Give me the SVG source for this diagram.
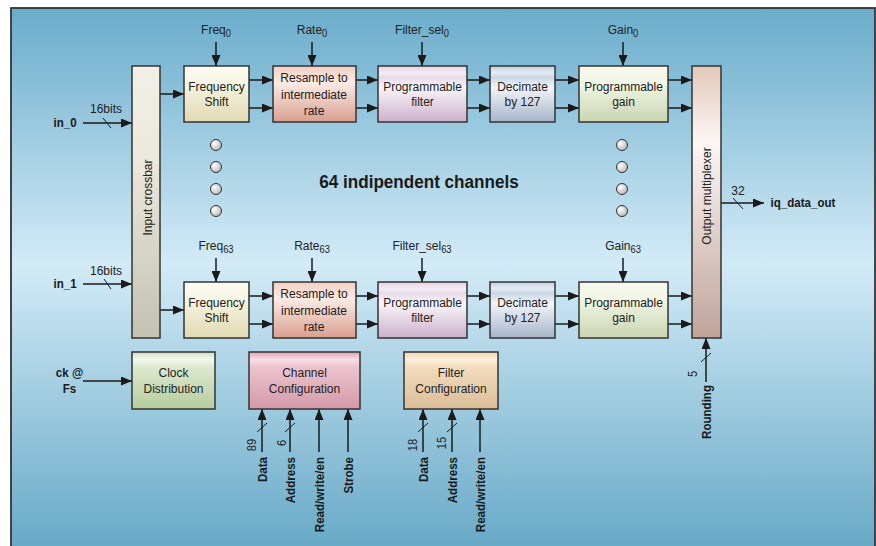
<svg xmlns="http://www.w3.org/2000/svg" width="876" height="546" viewBox="0 0 876 546">
<style>
.t{font-family:"Liberation Sans",Arial,sans-serif;font-size:13.5px;fill:#222;text-anchor:middle}
.b{font-weight:bold;font-size:13px;fill:#1a1a1a}
.e{text-anchor:end}
.s{font-size:10.5px}
.n{font-size:12.5px}
.blk{stroke:#333;stroke-width:1.5}
.ln{stroke:#1a1a1a;stroke-width:1.5;fill:none}
.ar{stroke:#1a1a1a;stroke-width:1.5;fill:none;marker-end:url(#ah)}
.sl{stroke:#1a1a1a;stroke-width:1}
.dot{fill:url(#gDot);stroke:#333;stroke-width:1}
</style>
<defs>
<marker id="ah" markerUnits="userSpaceOnUse" markerWidth="11" markerHeight="9" refX="11" refY="4.5" orient="auto">
<path d="M0,0 L11,4.5 L0,9 z" fill="#1a1a1a"/>
</marker>
<linearGradient id="gBg" x1="0" y1="0" x2="0" y2="1">
<stop offset="0" stop-color="#6aaccb"/><stop offset="0.47" stop-color="#d3ebf7"/><stop offset="1" stop-color="#66a8c6"/>
</linearGradient>
<linearGradient id="gIn" x1="0" y1="0" x2="0" y2="1">
<stop offset="0" stop-color="#f2f0e6"/><stop offset="0.35" stop-color="#ebe8dc"/><stop offset="1" stop-color="#c5c1b1"/>
</linearGradient>
<linearGradient id="gOut" x1="0" y1="0" x2="0" y2="1">
<stop offset="0" stop-color="#e3c7b9"/><stop offset="0.28" stop-color="#fcf7f5"/><stop offset="1" stop-color="#bfa399"/>
</linearGradient>
<linearGradient id="gFreq" x1="0" y1="0" x2="0" y2="1">
<stop offset="0" stop-color="#fdfcf4"/><stop offset="0.3" stop-color="#f8f5e3"/><stop offset="1" stop-color="#e0d9b2"/>
</linearGradient>
<linearGradient id="gRes" x1="0" y1="0" x2="0" y2="1">
<stop offset="0" stop-color="#f2cfc2"/><stop offset="0.3" stop-color="#fbebe4"/><stop offset="1" stop-color="#d99f90"/>
</linearGradient>
<linearGradient id="gFil" x1="0" y1="0" x2="0" y2="1">
<stop offset="0" stop-color="#e4d2e4"/><stop offset="0.12" stop-color="#f4ecf4"/><stop offset="0.2" stop-color="#e8dae8"/><stop offset="0.38" stop-color="#f9f5f9"/><stop offset="1" stop-color="#cbb1cb"/>
</linearGradient>
<linearGradient id="gDec" x1="0" y1="0" x2="0" y2="1">
<stop offset="0" stop-color="#c2d0e0"/><stop offset="0.12" stop-color="#e6ecf4"/><stop offset="0.2" stop-color="#cbd7e5"/><stop offset="0.38" stop-color="#f3f5f9"/><stop offset="1" stop-color="#a5b5ca"/>
</linearGradient>
<linearGradient id="gGain" x1="0" y1="0" x2="0" y2="1">
<stop offset="0" stop-color="#f6f9ec"/><stop offset="0.3" stop-color="#f2f6e6"/><stop offset="1" stop-color="#c9d5b1"/>
</linearGradient>
<linearGradient id="gClk" x1="0" y1="0" x2="0" y2="1">
<stop offset="0" stop-color="#cfe1bf"/><stop offset="0.13" stop-color="#f4f8ee"/><stop offset="0.26" stop-color="#dde9d0"/><stop offset="1" stop-color="#b6cc9c"/>
</linearGradient>
<linearGradient id="gChn" x1="0" y1="0" x2="0" y2="1">
<stop offset="0" stop-color="#e5a1b3"/><stop offset="0.13" stop-color="#f7dfe5"/><stop offset="0.26" stop-color="#eec3cd"/><stop offset="1" stop-color="#d399a9"/>
</linearGradient>
<linearGradient id="gFcf" x1="0" y1="0" x2="0" y2="1">
<stop offset="0" stop-color="#f3d4ae"/><stop offset="0.13" stop-color="#fcefdd"/><stop offset="0.26" stop-color="#f4dcbd"/><stop offset="1" stop-color="#d9bd96"/>
</linearGradient>
<radialGradient id="gDot" cx="0.35" cy="0.35" r="0.7">
<stop offset="0" stop-color="#ffffff"/><stop offset="1" stop-color="#b8b8b8"/>
</radialGradient>
</defs>

<rect width="876" height="546" fill="#ffffff"/>
<rect id="panel" x="11" y="8" width="864" height="545" fill="url(#gBg)" stroke="#333" stroke-width="1.8"/>

<g id="connectors">
<line class="ar" x1="83" y1="123" x2="132" y2="123"/>
<line class="sl" x1="103" y1="118" x2="111" y2="128"/>
<line class="ar" x1="83" y1="284" x2="132" y2="284"/>
<line class="sl" x1="104" y1="279" x2="111" y2="289"/>
<line class="ar" x1="160" y1="94" x2="184" y2="94"/>
<line class="ar" x1="160" y1="310" x2="184" y2="310"/>
<line class="ar" x1="249" y1="80" x2="273" y2="80"/>
<line class="ar" x1="249" y1="108" x2="273" y2="108"/>
<line class="ar" x1="356" y1="80" x2="378" y2="80"/>
<line class="ar" x1="356" y1="108" x2="378" y2="108"/>
<line class="ar" x1="467" y1="80" x2="490" y2="80"/>
<line class="ar" x1="467" y1="108" x2="490" y2="108"/>
<line class="ar" x1="555" y1="80" x2="579" y2="80"/>
<line class="ar" x1="555" y1="108" x2="579" y2="108"/>
<line class="ar" x1="668" y1="80" x2="692" y2="80"/>
<line class="ar" x1="668" y1="108" x2="692" y2="108"/>
<line class="ar" x1="249" y1="296" x2="273" y2="296"/>
<line class="ar" x1="249" y1="324" x2="273" y2="324"/>
<line class="ar" x1="356" y1="296" x2="378" y2="296"/>
<line class="ar" x1="356" y1="324" x2="378" y2="324"/>
<line class="ar" x1="467" y1="296" x2="490" y2="296"/>
<line class="ar" x1="467" y1="324" x2="490" y2="324"/>
<line class="ar" x1="555" y1="296" x2="579" y2="296"/>
<line class="ar" x1="555" y1="324" x2="579" y2="324"/>
<line class="ar" x1="668" y1="296" x2="692" y2="296"/>
<line class="ar" x1="668" y1="324" x2="692" y2="324"/>
<line class="ar" x1="216" y1="42" x2="216" y2="66"/>
<line class="ar" x1="312" y1="42" x2="312" y2="66"/>
<line class="ar" x1="422" y1="42" x2="422" y2="66"/>
<line class="ar" x1="623" y1="42" x2="623" y2="66"/>
<line class="ar" x1="216" y1="258" x2="216" y2="282"/>
<line class="ar" x1="312" y1="258" x2="312" y2="282"/>
<line class="ar" x1="422" y1="258" x2="422" y2="282"/>
<line class="ar" x1="623" y1="258" x2="623" y2="282"/>
<line class="ar" x1="721" y1="203" x2="764" y2="203"/>
<line class="sl" x1="733" y1="198" x2="743" y2="209"/>
<line class="ar" x1="706" y1="382" x2="706" y2="338"/>
<line class="sl" x1="701" y1="362" x2="711" y2="353"/>
<line class="ar" x1="83" y1="381" x2="132" y2="381"/>
<line class="ar" x1="262" y1="452" x2="262" y2="409"/>
<line class="sl" x1="257" y1="432" x2="267" y2="423"/>
<line class="ar" x1="290" y1="452" x2="290" y2="409"/>
<line class="sl" x1="285" y1="432" x2="295" y2="423"/>
<line class="ar" x1="319" y1="452" x2="319" y2="409"/>
<line class="ar" x1="348" y1="452" x2="348" y2="409"/>
<line class="ar" x1="423" y1="452" x2="423" y2="409"/>
<line class="sl" x1="418" y1="432" x2="428" y2="423"/>
<line class="ar" x1="452" y1="452" x2="452" y2="409"/>
<line class="sl" x1="447" y1="432" x2="457" y2="423"/>
<line class="ar" x1="480" y1="452" x2="480" y2="409"/>
</g>

<g id="in-labels">
<text class="t" transform="translate(106 113) scale(.89 1)">16bits</text>
<text class="t" transform="translate(106 275) scale(.89 1)">16bits</text>
<text class="t b" transform="translate(65 127) scale(.89 1)">in_0</text>
<text class="t b" transform="translate(65 288) scale(.89 1)">in_1</text>
<text class="t b" transform="translate(69.5 377) scale(.89 1)">ck @</text>
<text class="t b" transform="translate(69.5 393) scale(.89 1)">Fs</text>
<text class="t" transform="translate(738 195) scale(.89 1)">32</text>
<text class="t b" transform="translate(803 207) scale(.89 1)">iq_data_out</text>
</g>

<g id="param-labels">
<text class="t" transform="translate(216 34) scale(.89 1)">Freq<tspan class="s" dy="3">0</tspan></text>
<text class="t" transform="translate(312 34) scale(.89 1)">Rate<tspan class="s" dy="3">0</tspan></text>
<text class="t" transform="translate(422 34) scale(.89 1)">Filter_sel<tspan class="s" dy="3">0</tspan></text>
<text class="t" transform="translate(623 34) scale(.89 1)">Gain<tspan class="s" dy="3">0</tspan></text>
<text class="t" transform="translate(216 250) scale(.89 1)">Freq<tspan class="s" dy="3">63</tspan></text>
<text class="t" transform="translate(312 250) scale(.89 1)">Rate<tspan class="s" dy="3">63</tspan></text>
<text class="t" transform="translate(422 250) scale(.89 1)">Filter_sel<tspan class="s" dy="3">63</tspan></text>
<text class="t" transform="translate(623 250) scale(.89 1)">Gain<tspan class="s" dy="3">63</tspan></text>
</g>

<g id="input-crossbar">
<rect class="blk" x="132" y="66" width="28" height="272" fill="url(#gIn)"/>
<text class="t" transform="translate(151.5 197.5) rotate(-90) scale(.89 1)">Input crossbar</text>
</g>
<g id="output-multiplexer">
<rect class="blk" x="692" y="66" width="29" height="272" fill="url(#gOut)"/>
<text class="t" transform="translate(711 196) rotate(-90) scale(.89 1)">Output multiplexer</text>
</g>

<g id="freq-shift-0">
<rect class="blk" x="184" y="66" width="65" height="56" fill="url(#gFreq)"/>
<text class="t" transform="translate(216.5 91) scale(.89 1)">Frequency</text>
<text class="t" transform="translate(216.5 106) scale(.89 1)">Shift</text>
</g>
<g id="resample-0">
<rect class="blk" x="273" y="66" width="83" height="56" fill="url(#gRes)"/>
<text class="t" transform="translate(314 82) scale(.89 1)">Resample to</text>
<text class="t" transform="translate(314 98.5) scale(.89 1)">intermediate</text>
<text class="t" transform="translate(314 115) scale(.89 1)">rate</text>
</g>
<g id="filter-0">
<rect class="blk" x="378" y="66" width="89" height="56" fill="url(#gFil)"/>
<text class="t" transform="translate(422.5 91) scale(.89 1)">Programmable</text>
<text class="t" transform="translate(422.5 106) scale(.89 1)">filter</text>
</g>
<g id="decimate-0">
<rect class="blk" x="490" y="66" width="65" height="56" fill="url(#gDec)"/>
<text class="t" transform="translate(522.5 91) scale(.89 1)">Decimate</text>
<text class="t" transform="translate(522.5 106) scale(.89 1)">by 127</text>
</g>
<g id="gain-0">
<rect class="blk" x="579" y="66" width="89" height="56" fill="url(#gGain)"/>
<text class="t" transform="translate(623.5 91) scale(.89 1)">Programmable</text>
<text class="t" transform="translate(623.5 106) scale(.89 1)">gain</text>
</g>

<g id="freq-shift-63">
<rect class="blk" x="184" y="282" width="65" height="56" fill="url(#gFreq)"/>
<text class="t" transform="translate(216.5 307) scale(.89 1)">Frequency</text>
<text class="t" transform="translate(216.5 322) scale(.89 1)">Shift</text>
</g>
<g id="resample-63">
<rect class="blk" x="273" y="282" width="83" height="56" fill="url(#gRes)"/>
<text class="t" transform="translate(314 298) scale(.89 1)">Resample to</text>
<text class="t" transform="translate(314 314.5) scale(.89 1)">intermediate</text>
<text class="t" transform="translate(314 331) scale(.89 1)">rate</text>
</g>
<g id="filter-63">
<rect class="blk" x="378" y="282" width="89" height="56" fill="url(#gFil)"/>
<text class="t" transform="translate(422.5 307) scale(.89 1)">Programmable</text>
<text class="t" transform="translate(422.5 322) scale(.89 1)">filter</text>
</g>
<g id="decimate-63">
<rect class="blk" x="490" y="282" width="65" height="56" fill="url(#gDec)"/>
<text class="t" transform="translate(522.5 307) scale(.89 1)">Decimate</text>
<text class="t" transform="translate(522.5 322) scale(.89 1)">by 127</text>
</g>
<g id="gain-63">
<rect class="blk" x="579" y="282" width="89" height="56" fill="url(#gGain)"/>
<text class="t" transform="translate(623.5 307) scale(.89 1)">Programmable</text>
<text class="t" transform="translate(623.5 322) scale(.89 1)">gain</text>
</g>

<g id="dots">
<circle class="dot" cx="216" cy="145" r="5.5"/>
<circle class="dot" cx="216" cy="167" r="5.5"/>
<circle class="dot" cx="216" cy="189" r="5.5"/>
<circle class="dot" cx="216" cy="211" r="5.5"/>
<circle class="dot" cx="622" cy="145" r="5.5"/>
<circle class="dot" cx="622" cy="167" r="5.5"/>
<circle class="dot" cx="622" cy="189" r="5.5"/>
<circle class="dot" cx="622" cy="211" r="5.5"/>
</g>

<text class="t b" style="font-size:19px" transform="translate(419 188) scale(.9 1)">64 indipendent channels</text>

<g id="clock-distribution">
<rect class="blk" x="132" y="352" width="83" height="57" fill="url(#gClk)"/>
<text class="t" transform="translate(173.5 377) scale(.89 1)">Clock</text>
<text class="t" transform="translate(173.5 393) scale(.89 1)">Distribution</text>
</g>
<g id="channel-configuration">
<rect class="blk" x="249" y="352" width="111" height="57" fill="url(#gChn)"/>
<text class="t" transform="translate(304.5 377) scale(.89 1)">Channel</text>
<text class="t" transform="translate(304.5 393) scale(.89 1)">Configuration</text>
</g>
<g id="filter-configuration">
<rect class="blk" x="404" y="352" width="94" height="57" fill="url(#gFcf)"/>
<text class="t" transform="translate(451 377) scale(.89 1)">Filter</text>
<text class="t" transform="translate(451 393) scale(.89 1)">Configuration</text>
</g>

<g id="bus-labels">
<text class="t n" transform="translate(256 445) rotate(-90) scale(.89 1)">89</text>
<text class="t n" transform="translate(285.5 443) rotate(-90) scale(.89 1)">6</text>
<text class="t n" transform="translate(416.5 445) rotate(-90) scale(.89 1)">18</text>
<text class="t n" transform="translate(445.5 443) rotate(-90) scale(.89 1)">15</text>
<text class="t n" transform="translate(697 374) rotate(-90) scale(.89 1)">5</text>
<text class="t b e" transform="translate(266.5 457) rotate(-90) scale(.89 1)">Data</text>
<text class="t b e" transform="translate(294.5 457) rotate(-90) scale(.89 1)">Address</text>
<text class="t b e" transform="translate(323.5 457) rotate(-90) scale(.89 1)">Read/write/en</text>
<text class="t b e" transform="translate(352.5 457) rotate(-90) scale(.89 1)">Strobe</text>
<text class="t b e" transform="translate(427.5 457) rotate(-90) scale(.89 1)">Data</text>
<text class="t b e" transform="translate(456.5 457) rotate(-90) scale(.89 1)">Address</text>
<text class="t b e" transform="translate(484.5 457) rotate(-90) scale(.89 1)">Read/write/en</text>
<text class="t b e" transform="translate(710.5 385) rotate(-90) scale(.89 1)">Rounding</text>
</g>
</svg>
